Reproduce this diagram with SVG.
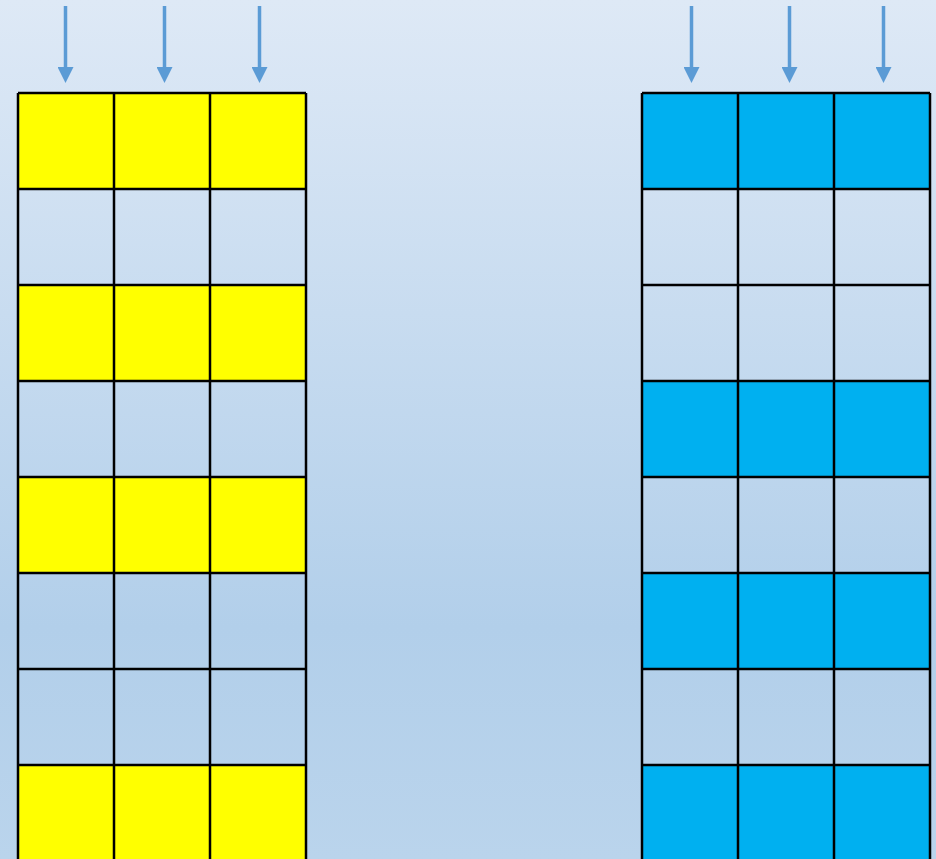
<svg xmlns="http://www.w3.org/2000/svg" width="936" height="859" viewBox="0 0 936 859">
<defs>
<linearGradient id="bg" x1="0" y1="0" x2="0" y2="1">
<stop offset="0" stop-color="#dee9f6"/>
<stop offset="0.73" stop-color="#b2cfea"/>
<stop offset="1" stop-color="#bad4ec"/>
</linearGradient>
<marker id="ah" viewBox="0 0 16 16" refX="1" refY="8" markerWidth="16" markerHeight="16" markerUnits="userSpaceOnUse" orient="auto">
<path d="M0,0 L16,8 L0,16 Z" fill="#5b9bd5"/>
</marker>
</defs>
<style>
.c{stroke:#000;stroke-width:2.5;fill:none}
.y{fill:#ffff00}
.b{fill:#00b0f0}
.a{stroke:#5b9bd5;stroke-width:3.5;fill:none}
</style>
<rect width="936" height="859" fill="url(#bg)"/>
<g id="connectors">
<line class="a" x1="65.5" y1="6" x2="65.5" y2="68" marker-end="url(#ah)"/>
<line class="a" x1="164.5" y1="6" x2="164.5" y2="68" marker-end="url(#ah)"/>
<line class="a" x1="259.5" y1="6" x2="259.5" y2="68" marker-end="url(#ah)"/>
<line class="a" x1="691.5" y1="6" x2="691.5" y2="68" marker-end="url(#ah)"/>
<line class="a" x1="789.5" y1="6" x2="789.5" y2="68" marker-end="url(#ah)"/>
<line class="a" x1="883.5" y1="6" x2="883.5" y2="68" marker-end="url(#ah)"/>
</g>
<g id="left-grid">
<rect class="y" x="18" y="93" width="288" height="96"/>
<rect class="y" x="18" y="285" width="288" height="96"/>
<rect class="y" x="18" y="477" width="288" height="96"/>
<rect class="y" x="18" y="765" width="288" height="96"/>
<path class="c" d="M18,93V870M114,93V870M210,93V870M306,93V870M18,93H306M18,189H306M18,285H306M18,381H306M18,477H306M18,573H306M18,669H306M18,765H306"/>
</g>
<g id="right-grid">
<rect class="b" x="642" y="93" width="288" height="96"/>
<rect class="b" x="642" y="381" width="288" height="96"/>
<rect class="b" x="642" y="573" width="288" height="96"/>
<rect class="b" x="642" y="765" width="288" height="96"/>
<path class="c" d="M642,93V870M738,93V870M834,93V870M930,93V870M642,93H930M642,189H930M642,285H930M642,381H930M642,477H930M642,573H930M642,669H930M642,765H930"/>
</g>
</svg>
